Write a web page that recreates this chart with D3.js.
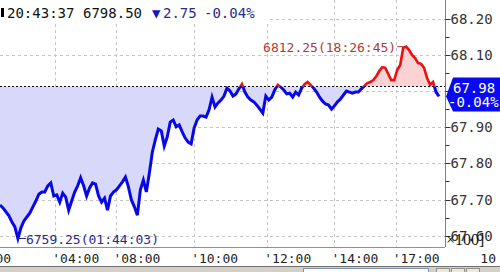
<!DOCTYPE html>
<html>
<head>
<meta charset="utf-8">
<script src="https://cdn.jsdelivr.net/npm/d3@7"></script>
<style>
  body { margin: 0; background: #fff; }
  svg { display: block; font-family: "DejaVu Sans Mono", monospace; }
</style>
</head>
<body>
<div id="chart"></div>
<script>
// price (x100) per tick
const prices = [
  67.685, 67.677, 67.666, 67.655, 67.638, 67.624, 67.5925, 67.622, 67.641, 67.652,
  67.663, 67.680, 67.696, 67.715, 67.721, 67.721, 67.738, 67.746, 67.710, 67.713,
  67.693, 67.718, 67.707, 67.671, 67.696, 67.721, 67.738, 67.760, 67.738, 67.710,
  67.732, 67.746, 67.743, 67.710, 67.693, 67.704, 67.671, 67.710, 67.721, 67.727,
  67.738, 67.749, 67.762, 67.735, 67.699, 67.680, 67.657, 67.727, 67.754, 67.721,
  67.773, 67.831, 67.865, 67.895, 67.890, 67.848, 67.873, 67.914, 67.920, 67.901,
  67.906, 67.887, 67.870, 67.859, 67.854, 67.898, 67.920, 67.931, 67.931, 67.928,
  67.948, 67.983, 67.956, 67.967, 67.975, 67.986, 68.008, 68.000, 67.986, 67.992,
  68.006, 68.019, 67.997, 67.983, 67.975, 67.970, 67.961, 67.950, 67.939, 67.986,
  67.975, 67.983, 68.003, 68.017, 68.011, 68.003, 67.992, 67.994, 67.983, 67.997,
  67.989, 68.008, 68.019, 68.025, 68.017, 68.008, 67.997, 67.983, 67.972, 67.964,
  67.961, 67.950, 67.959, 67.970, 67.978, 67.989, 68.000, 67.997, 67.994, 67.997,
  67.997, 68.006, 68.014, 68.022, 68.025, 68.030, 68.041, 68.055, 68.066, 68.064,
  68.047, 68.030, 68.030, 68.058, 68.072, 68.119, 68.1225, 68.113, 68.099, 68.091,
  68.077, 68.075, 68.064, 68.036, 68.017, 68.025, 67.997, 67.985
];
const prevClose = 68.0125;

const yTicks = [67.6, 67.7, 67.8, 67.9, 68.0, 68.1, 68.2];
const yLabels = [67.6, 67.7, 67.8, 67.9, 68.1, 68.2]; // 68.00 sits under the price tag
const yMinorTicks = [67.65, 67.75, 67.85, 67.95, 68.05, 68.15];
const xTickIdx = [-11, 18.5, 39, 65, 89.5, 112, 132.5];
const xTickLabels = ["'00:00", "'04:00", "'08:00", "'10:00", "'12:00", "'14:00", "'17:00"];

const header = { time: "20:43:37", price: "6798.50", change: "2.75", pct: "-0.04%" };
const maxLabel = "6812.25(18:26:45)";
const minLabel = "6759.25(01:44:03)";
const tagPrice = "67.98", tagPct = "-0.04%";

const W = 500, H = 272;
const plotRight = 445, plotBottom = 247;

const svg = d3.select("#chart").append("svg")
    .attr("width", W).attr("height", H);

const x = d3.scaleLinear().domain([0, 149]).range([0, plotRight]);
const y = d3.scaleLinear().domain([67.6, 68.2]).range([235.8, 18.6]);
const yRef = y(prevClose);

svg.append("rect").attr("width", W).attr("height", H).attr("fill", "#fff");

// grid
const grid = svg.append("g").attr("stroke", "#c4c4c4").attr("stroke-dasharray", "3,3");
grid.selectAll("line.h").data(yTicks).join("line")
    .attr("x1", 0).attr("x2", plotRight)
    .attr("y1", d => Math.round(y(d)) + 0.5).attr("y2", d => Math.round(y(d)) + 0.5);
grid.selectAll("line.v").data(xTickIdx.filter(d => d > 0)).join("line")
    .attr("x1", d => Math.round(x(d)) + 0.5).attr("x2", d => Math.round(x(d)) + 0.5)
    .attr("y1", 0).attr("y2", plotBottom);

// clip regions above / below previous close
const defs = svg.append("defs");
defs.append("clipPath").attr("id", "above").append("rect")
    .attr("x", 0).attr("y", 0).attr("width", plotRight).attr("height", yRef);
defs.append("clipPath").attr("id", "below").append("rect")
    .attr("x", 0).attr("y", yRef).attr("width", plotRight).attr("height", plotBottom - yRef);

const area = d3.area().x((d, i) => x(i)).y0(yRef).y1(d => y(d));
const line = d3.line().x((d, i) => x(i)).y(d => y(d));

svg.append("path").datum(prices).attr("d", area)
    .attr("fill", "#fcd2d2").attr("clip-path", "url(#above)");
svg.append("path").datum(prices).attr("d", area)
    .attr("fill", "#d8d8fa").attr("clip-path", "url(#below)");

// previous close line
svg.append("line")
    .attr("x1", 0).attr("x2", plotRight)
    .attr("y1", Math.round(yRef) + 0.5).attr("y2", Math.round(yRef) + 0.5)
    .attr("stroke", "#000").attr("stroke-dasharray", "2,2");

svg.append("path").datum(prices).attr("d", line)
    .attr("fill", "none").attr("stroke", "#ee1010").attr("stroke-width", 2.6)
    .attr("stroke-linejoin", "miter").attr("clip-path", "url(#above)");
svg.append("path").datum(prices).attr("d", line)
    .attr("fill", "none").attr("stroke", "#0808e6").attr("stroke-width", 3)
    .attr("stroke-linejoin", "miter").attr("clip-path", "url(#below)");

// max / min annotations
const iMax = d3.maxIndex(prices), iMin = d3.minIndex(prices);
svg.append("line")
    .attr("x1", x(iMax) - 9).attr("x2", x(iMax)).attr("y1", y(prices[iMax])).attr("y2", y(prices[iMax]))
    .attr("stroke", "#b03a3a");
svg.append("text").attr("x", x(iMax) - 10).attr("y", y(prices[iMax]) + 5)
    .attr("text-anchor", "end").attr("font-size", 13).attr("fill", "#b03a3a")
    .text(maxLabel);
svg.append("line")
    .attr("x1", x(iMin)).attr("x2", x(iMin) + 8).attr("y1", y(prices[iMin])).attr("y2", y(prices[iMin]))
    .attr("stroke", "#2a2a8c");
svg.append("text").attr("x", x(iMin) + 8).attr("y", y(prices[iMin]) + 5)
    .attr("font-size", 13).attr("fill", "#2a2a8c")
    .text(minLabel);

// right axis
const yAxis = svg.append("g").attr("transform", `translate(${plotRight + 0.5},0)`);
yAxis.append("line").attr("y1", 0).attr("y2", plotBottom).attr("stroke", "#808080");
yAxis.selectAll("line.mj").data(yTicks).join("line")
    .attr("x1", 0).attr("x2", 5)
    .attr("y1", d => Math.round(y(d)) + 0.5).attr("y2", d => Math.round(y(d)) + 0.5)
    .attr("stroke", "#333");
yAxis.selectAll("line.mn").data(yMinorTicks).join("line")
    .attr("x1", 0).attr("x2", 4)
    .attr("y1", d => Math.round(y(d)) + 0.5).attr("y2", d => Math.round(y(d)) + 0.5)
    .attr("stroke", "#333");
yAxis.selectAll("text").data(yLabels).join("text")
    .attr("x", 5).attr("y", d => y(d) + 5)
    .attr("font-size", 14).attr("fill", "#333")
    .text(d => d3.format(".2f")(d));

svg.append("text").attr("x", plotRight + 1).attr("y", 245)
    .attr("font-family", "Liberation Serif, serif").attr("font-size", 16).attr("fill", "#111")
    .text("\u00d7100]");

// current price tag
const yl = y(prices[prices.length - 1]);
svg.append("path")
    .attr("d", `M${plotRight + 1},${yl} L${plotRight + 8},${yl - 19} L${W},${yl - 19} L${W},${yl + 15} L${plotRight + 8},${yl + 15} Z`)
    .attr("fill", "#0a0af0");
svg.append("text").attr("x", plotRight + 8).attr("y", yl - 3)
    .attr("font-size", 14).attr("fill", "#fff").text(tagPrice);
svg.append("text").attr("x", plotRight + 3).attr("y", yl + 11)
    .attr("font-size", 14).attr("fill", "#fff").text(tagPct);

// bottom axis
svg.append("line").attr("x1", 0).attr("x2", plotRight)
    .attr("y1", plotBottom + 0.5).attr("y2", plotBottom + 0.5).attr("stroke", "#909090");
svg.append("g").selectAll("text").data(xTickIdx).join("text")
    .attr("x", d => x(d) - 3).attr("y", 263)
    .attr("font-size", 13).attr("fill", "#222")
    .text((d, i) => xTickLabels[i]);
svg.append("text").attr("x", 496).attr("y", 263).attr("text-anchor", "end")
    .attr("font-size", 13).attr("fill", "#222").text("10");

// window chrome at the bottom
svg.append("rect").attr("x", 0).attr("y", 266).attr("width", W).attr("height", 6).attr("fill", "#d4d0c8");
svg.append("line").attr("x1", 0).attr("x2", W).attr("y1", 266.5).attr("y2", 266.5).attr("stroke", "#707070");
svg.append("rect").attr("x", 303.5).attr("y", 268.5).attr("width", 125).attr("height", 6)
    .attr("fill", "#fff").attr("stroke", "#8090b0");
[436, 451, 466].forEach(bx => svg.append("rect").attr("x", bx + 0.5).attr("y", 268.5)
    .attr("width", 13).attr("height", 6).attr("fill", "#ece9d8").attr("stroke", "#909090"));

// header
svg.append("rect").attr("x", 0).attr("y", 0).attr("width", 268).attr("height", 22).attr("fill", "#fff");
svg.append("rect").attr("x", 1).attr("y", 8).attr("width", 3).attr("height", 9).attr("fill", "#000");
svg.append("text").attr("x", 7).attr("y", 18).attr("font-size", 14).attr("fill", "#111").text(header.time);
svg.append("text").attr("x", 83).attr("y", 18).attr("font-size", 14).attr("fill", "#111").text(header.price);
svg.append("text").attr("x", 152).attr("y", 18).attr("font-size", 14).attr("fill", "#1414c8").text("\u25bc");
svg.append("text").attr("x", 163).attr("y", 18).attr("font-size", 14).attr("fill", "#2a2a8c").text(header.change);
svg.append("text").attr("x", 204).attr("y", 18).attr("font-size", 14).attr("fill", "#2a2a8c").text(header.pct);
</script>
</body>
</html>
